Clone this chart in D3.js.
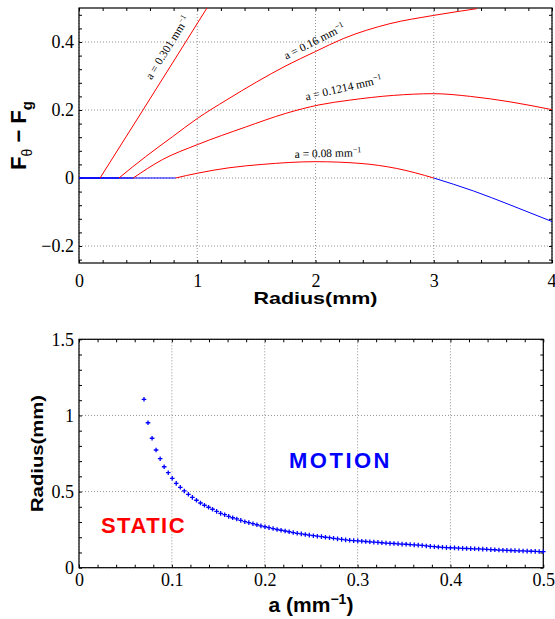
<!DOCTYPE html>
<html>
<head>
<meta charset="utf-8">
<script src="https://cdn.jsdelivr.net/npm/d3@7"></script>
<style>
  body { margin: 0; background: #fff; }
  svg { display: block; }
</style>
</head>
<body>
<svg id="chart" width="555" height="619"></svg>
<script>
// ---- top panel: F_theta - F_g against radius, one curve per a ----
const radius301 = [0.178, 0.541, 0.902, 1.082];
const force301 = [0, 0.2, 0.4, 0.5];

const radius16 = [0.338, 0.564, 0.789, 1.0, 1.25, 1.5, 1.75, 2.0, 2.235, 2.63, 2.996, 3.363];
const force16 = [0, 0.063, 0.121, 0.175, 0.230, 0.282, 0.330, 0.372, 0.410, 0.454, 0.478, 0.498];

const radius1214 = [0.459, 0.705, 1.0, 1.41, 1.748, 2.03, 2.29, 2.66, 3.0, 3.31, 3.645, 4.0];
const force1214 = [0, 0.054, 0.098, 0.150, 0.190, 0.215, 0.229, 0.243, 0.248, 0.240, 0.224, 0.201];

const radius008 = [0.817, 1.0, 1.268, 1.55, 2.0, 2.376, 2.687, 3.0];
const force008 = [0, 0.014, 0.030, 0.040, 0.048, 0.043, 0.028, 0];

// a = 0.08 goes negative past r = 3 (drawn blue)
const tailRadius008 = [3.0, 3.335, 3.645, 4.0];
const tailForce008 = [0, -0.038, -0.079, -0.128];

const curveLabels = ["a = 0.301 mm", "a = 0.16 mm", "a = 0.1214 mm", "a = 0.08 mm"];

const topXTicks = [0, 1, 2, 3, 4];
const topYTicks = [-0.2, 0, 0.2, 0.4];

// ---- bottom panel: critical radius against a ----
const aValues = [
  0.0700, 0.0743, 0.0787, 0.0830, 0.0874, 0.0917, 0.0961, 0.1004, 0.1047, 0.1091,
  0.1134, 0.1178, 0.1221, 0.1265, 0.1308, 0.1351, 0.1395, 0.1438, 0.1482, 0.1525,
  0.1569, 0.1612, 0.1655, 0.1699, 0.1742, 0.1786, 0.1829, 0.1873, 0.1916, 0.1959,
  0.2003, 0.2046, 0.2090, 0.2133, 0.2176, 0.2220, 0.2263, 0.2307, 0.2350, 0.2394,
  0.2437, 0.2480, 0.2524, 0.2567, 0.2611, 0.2654, 0.2698, 0.2741, 0.2784, 0.2828,
  0.2871, 0.2915, 0.2958, 0.3002, 0.3045, 0.3088, 0.3132, 0.3175, 0.3219, 0.3262,
  0.3306, 0.3349, 0.3392, 0.3436, 0.3479, 0.3523, 0.3566, 0.3610, 0.3653, 0.3696,
  0.3740, 0.3783, 0.3827, 0.3870, 0.3914, 0.3957, 0.4000, 0.4044, 0.4087, 0.4131,
  0.4174, 0.4218, 0.4261, 0.4304, 0.4348, 0.4391, 0.4435, 0.4478, 0.4522, 0.4565,
  0.4608, 0.4652, 0.4695, 0.4739, 0.4782, 0.4826, 0.4869, 0.4913, 0.4956, 0.5000
];
const radiusCritical = [
  1.106, 0.952, 0.850, 0.773, 0.716, 0.663, 0.624, 0.587, 0.554, 0.528,
  0.504, 0.482, 0.462, 0.443, 0.425, 0.410, 0.397, 0.384, 0.370, 0.357,
  0.348, 0.337, 0.328, 0.320, 0.311, 0.302, 0.296, 0.289, 0.282, 0.275,
  0.269, 0.263, 0.257, 0.251, 0.246, 0.241, 0.236, 0.231, 0.226, 0.222,
  0.218, 0.214, 0.210, 0.207, 0.204, 0.200, 0.197, 0.193, 0.189, 0.186,
  0.183, 0.180, 0.178, 0.176, 0.174, 0.172, 0.170, 0.168, 0.166, 0.164,
  0.162, 0.160, 0.159, 0.157, 0.155, 0.154, 0.152, 0.150, 0.148, 0.146,
  0.143, 0.140, 0.138, 0.136, 0.134, 0.132, 0.131, 0.130, 0.128, 0.127,
  0.126, 0.125, 0.124, 0.123, 0.122, 0.121, 0.119, 0.118, 0.116, 0.115,
  0.114, 0.113, 0.112, 0.111, 0.110, 0.109, 0.108, 0.107, 0.106, 0.105
];

const bottomXTicks = [0, 0.1, 0.2, 0.3, 0.4, 0.5];
const bottomYTicks = [0, 0.5, 1, 1.5];

const serif = "'Liberation Serif','Times New Roman',serif";
const sans = "'Liberation Sans',Arial,Helvetica,sans-serif";
const RED = "#ff0000", BLUE = "#0000ff";

const svg = d3.select("#chart");
const fmt = d => String(d).replace("-", "\u2212");

// frame, grid, inward ticks on all four sides, labels on left/bottom
function drawAxes(g, x, y, opt) {
  const [xa, xb] = x.range(), [yb, ya] = y.range();

  const grid = g.append("g").attr("stroke", "#777").attr("stroke-width", 0.8)
    .attr("stroke-dasharray", "1,2");
  grid.selectAll(".gx").data(opt.xTicks).join("line")
    .attr("x1", d => x(d)).attr("x2", d => x(d)).attr("y1", ya).attr("y2", yb);
  grid.selectAll(".gy").data(opt.yTicks).join("line")
    .attr("y1", d => y(d)).attr("y2", d => y(d)).attr("x1", xa).attr("x2", xb);

  const tick = 3;
  const axes = [
    [d3.axisBottom(x), `translate(0,${yb})`, opt.xMinor],
    [d3.axisTop(x), `translate(0,${ya})`, opt.xMinor],
    [d3.axisLeft(y), `translate(${xa},0)`, opt.yMinor],
    [d3.axisRight(y), `translate(${xb},0)`, opt.yMinor]
  ];
  axes.forEach(([ax, tr, vals]) => {
    const a = g.append("g").attr("transform", tr)
      .call(ax.tickValues(vals).tickSize(-tick).tickFormat(""));
    a.select(".domain").remove();
    a.selectAll("line").attr("stroke", "#000").attr("stroke-width", 1);
  });

  const xl = g.append("g").attr("transform", `translate(0,${yb})`)
    .call(d3.axisBottom(x).tickValues(opt.xTicks).tickSize(0)
      .tickPadding(opt.xPad).tickFormat(fmt));
  const yl = g.append("g").attr("transform", `translate(${xa},0)`)
    .call(d3.axisLeft(y).tickValues(opt.yTicks).tickSize(0)
      .tickPadding(5).tickFormat(fmt));
  [xl, yl].forEach(a => {
    a.select(".domain").remove();
    a.attr("font-family", serif).attr("font-size", 18);
    a.selectAll("text").style("font-family", serif).style("font-size", "18px").attr("fill", "#000");
  });
  // last x label sits on the right edge of the picture: keep it inside
  if (opt.lastXEnd) {
    xl.selectAll("text").filter((d, i, n) => i === n.length - 1)
      .attr("text-anchor", "end").attr("dx", 4);
  }

  g.append("rect").attr("x", xa).attr("y", ya).attr("width", xb - xa).attr("height", yb - ya)
    .attr("fill", "none").attr("stroke", "#000").attr("stroke-width", 1.2);
}

// ================= top panel =================
const xTop = d3.scaleLinear().domain([0, 4]).range([79, 552]);
const yTop = d3.scaleLinear().domain([-0.25, 0.5]).range([263, 8]);
const gTop = svg.append("g");

svg.append("clipPath").attr("id", "clipTop").append("rect")
  .attr("x", 79).attr("y", 8).attr("width", 473).attr("height", 255);

drawAxes(gTop, xTop, yTop, {
  xTicks: topXTicks, yTicks: topYTicks,
  xMinor: d3.range(0, 4.001, 0.2), yMinor: d3.range(-0.24, 0.5, 0.04),
  xPad: 11, lastXEnd: true
});

const curves = [
  { r: radius301, f: force301 },
  { r: radius16, f: force16 },
  { r: radius1214, f: force1214 },
  { r: radius008, f: force008 }
];
const line = d3.line().x(d => xTop(d[0])).y(d => yTop(d[1])).curve(d3.curveMonotoneX);
const plot = gTop.append("g").attr("clip-path", "url(#clipTop)").attr("fill", "none");

// static branch, F = 0 below each threshold radius
curves.forEach(c => {
  plot.append("path").attr("d", line([[0, 0], [c.r[0], 0]]))
    .attr("stroke", BLUE).attr("stroke-width", 1);
});
plot.append("path").attr("d", line(d3.zip(tailRadius008, tailForce008)))
  .attr("stroke", BLUE).attr("stroke-width", 1);
curves.forEach(c => {
  plot.append("path").attr("d", line(d3.zip(c.r, c.f)))
    .attr("stroke", RED).attr("stroke-width", 1);
});

// curve labels: anchor in data units + rotation
const labelPlace = [[0.775, 0.378, -58], [2.004, 0.392, -27], [2.245, 0.254, -13], [2.106, 0.0616, -1.5]];
curveLabels.forEach((t, i) => {
  const [r, f, ang] = labelPlace[i];
  const tx = gTop.append("text")
    .attr("transform", `translate(${xTop(r)},${yTop(f)}) rotate(${ang})`)
    .attr("text-anchor", "middle").style("font-family", serif).style("font-size", "11.5px");
  tx.append("tspan").text(t);
  tx.append("tspan").attr("dy", -4).style("font-size", "8px").text("\u22121");
});

gTop.append("text").attr("x", 315.5).attr("y", 304).attr("text-anchor", "middle")
  .style("font-family", sans).style("font-weight", "bold").style("font-size", "17px")
  .attr("textLength", 124).attr("lengthAdjust", "spacingAndGlyphs").text("Radius(mm)");

const yLab = gTop.append("text").attr("transform", "translate(26,135.5) rotate(-90)")
  .attr("text-anchor", "middle").style("font-family", sans).style("font-weight", "bold").style("font-size", "22px");
yLab.append("tspan").text("F");
yLab.append("tspan").attr("dy", 6).style("font-size", "14px").style("font-weight", "normal").text("\u03b8");
yLab.append("tspan").attr("dy", -6).text(" \u2212 F");
yLab.append("tspan").attr("dy", 6).style("font-size", "15px").text("g");

// ================= bottom panel =================
const xBot = d3.scaleLinear().domain([0, 0.5]).range([79, 543.3]);
const yBot = d3.scaleLinear().domain([0, 1.5]).range([567.7, 339.3]);
const gBot = svg.append("g");

drawAxes(gBot, xBot, yBot, {
  xTicks: bottomXTicks, yTicks: bottomYTicks,
  xMinor: d3.range(0, 0.501, 0.02), yMinor: d3.range(0, 1.501, 0.1),
  xPad: 6
});

gBot.append("g").selectAll("path").data(d3.zip(aValues, radiusCritical)).join("path")
  .attr("transform", d => `translate(${xBot(d[0])},${yBot(d[1])})`)
  .attr("d", "M-2.3,0H2.3M0,-2.3V2.3")
  .attr("stroke", BLUE).attr("stroke-width", 1.3).attr("fill", "none");

gBot.append("text").attr("x", 143.5).attr("y", 533).attr("text-anchor", "middle")
  .style("font-family", sans).style("font-weight", "bold").style("font-size", "22px")
  .attr("letter-spacing", 1.5).attr("fill", RED).text("STATIC");
gBot.append("text").attr("x", 340.5).attr("y", 468).attr("text-anchor", "middle")
  .style("font-family", sans).style("font-weight", "bold").style("font-size", "22px")
  .attr("letter-spacing", 2.5).attr("fill", BLUE).text("MOTION");

gBot.append("text").attr("transform", "translate(43,453.5) rotate(-90)").attr("text-anchor", "middle")
  .style("font-family", sans).style("font-weight", "bold").style("font-size", "17px")
  .attr("textLength", 117).attr("lengthAdjust", "spacingAndGlyphs").text("Radius(mm)");

const aLab = gBot.append("text").attr("x", 311).attr("y", 612).attr("text-anchor", "middle")
  .style("font-family", sans).style("font-weight", "bold").style("font-size", "21px");
aLab.append("tspan").text("a (mm");
aLab.append("tspan").attr("dy", -8).style("font-size", "14px").text("\u22121");
aLab.append("tspan").attr("dy", 8).text(")");
</script>
</body>
</html>
